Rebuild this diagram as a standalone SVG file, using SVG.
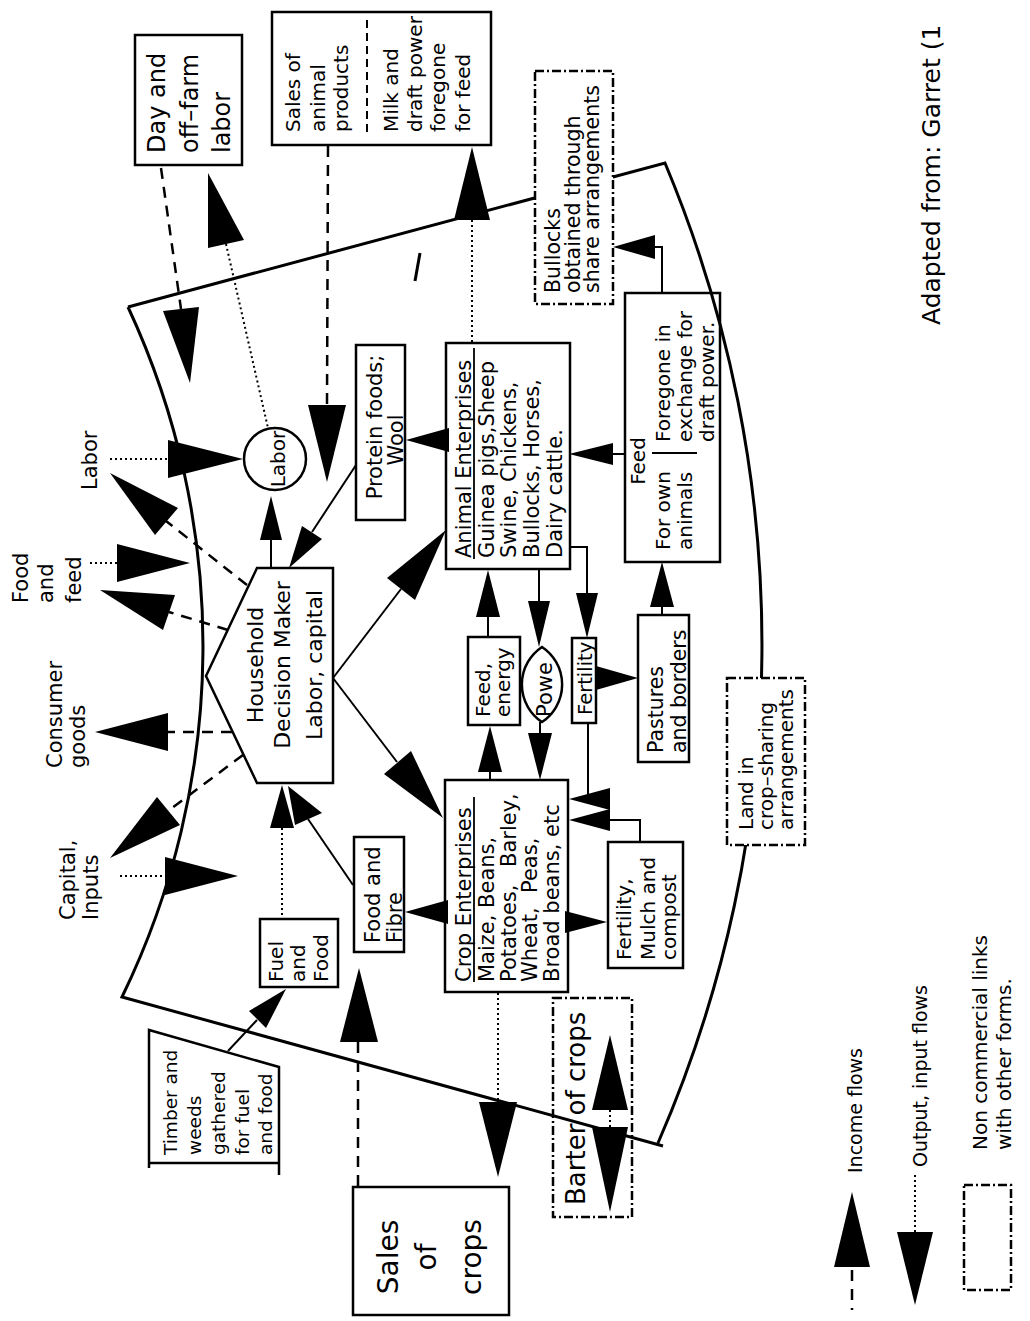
<svg xmlns="http://www.w3.org/2000/svg" width="1030" height="1321" viewBox="0 0 1030 1321">
<style>
.box{fill:none;stroke:#000;stroke-width:2.5}
.wbox{fill:#fff;stroke:#000;stroke-width:2.5}
.dd{stroke-dasharray:9 3 2 3}
.t{font-family:"DejaVu Sans","Liberation Sans",sans-serif;fill:#000}
.ln{fill:none;stroke:#000;stroke-width:2}
.dash{fill:none;stroke:#000;stroke-width:2.5;stroke-dasharray:11 8}
.dot{fill:none;stroke:#000;stroke-width:2;stroke-dasharray:2 3}
.ah{fill:#000;stroke:none}
.bd{fill:none;stroke:#000;stroke-width:3}
</style>
<rect x="0" y="0" width="1030" height="1321" fill="#fff"/>

<g id="boundary">
<path class="bd" d="M128,307 L665,163 A1245.6,1245.6 0 0 1 658,1143 M663,1146 L122,997 A802.5,802.5 0 0 0 128,307"/>
<line x1="420" y1="253" x2="415" y2="281" stroke="#000" stroke-width="3"/>
</g>

<g id="connectors">
<!-- Labor in -->
<path class="dot" d="M110,459 L168,459"/>
<polygon class="ah" points="243,459 168,440 168,478"/>
<!-- Household -> Labor out -->
<path class="dash" d="M247,585 L166,521"/>
<polygon class="ah" points="110,473 178,508 155,535"/>
<!-- Food and feed in -->
<path class="dot" d="M90,563 L117,563"/>
<polygon class="ah" points="190,563 117,544 117,582"/>
<!-- Food and feed out -->
<path class="dash" d="M228,630 L169,612"/>
<polygon class="ah" points="100,590 175,595 163,630"/>
<!-- Consumer goods out -->
<path class="dash" d="M232,732 L168,732"/>
<polygon class="ah" points="95,732 168,713 168,751"/>
<!-- Capital out -->
<path class="dash" d="M243,755 L168,811"/>
<polygon class="ah" points="110,858 157,797 180,825"/>
<!-- Capital inputs in -->
<path class="dot" d="M120,876 L165,876"/>
<polygon class="ah" points="238,876 165,857 165,895"/>
<!-- Day labor income in -->
<path class="dash" d="M161,168 L181,309"/>
<polygon class="ah" points="190,383 199,307 163,311"/>
<!-- Labor -> Day labor -->
<path class="dot" d="M226,244 L268,428"/>
<polygon class="ah" points="208,173 208,248 244,240"/>
<!-- Sales of animal products in -->
<path class="dash" d="M328,146 L327,405"/>
<polygon class="ah" points="327,482 308,405 346,405"/>
<!-- Animal -> milk foregone -->
<path class="dot" d="M472,220 L472,343"/>
<polygon class="ah" points="472,147 454,220 490,220"/>
<!-- Animal -> Protein -->
<polygon class="ah" points="406,440 449,428 449,452"/>
<!-- Protein -> Household -->
<path class="ln" d="M356,465 L312,532"/>
<polygon class="ah" points="289,568 322,539 302,526"/>
<!-- Household -> Labor circle -->
<path class="ln" d="M271,540 L271,568"/>
<polygon class="ah" points="271,496 260,540 282,540"/>
<!-- Household -> Animal -->
<path class="ln" d="M333,678 L401,589"/>
<polygon class="ah" points="446,530 415,600 387,578"/>
<!-- Household -> Crop -->
<path class="ln" d="M333,678 L397,762"/>
<polygon class="ah" points="443,818 411,751 384,774"/>
<!-- Food and Fibre -> Household -->
<path class="ln" d="M353,885 L308,819"/>
<polygon class="ah" points="288,786 295,825 322,813"/>
<!-- Fuel -> Household -->
<path class="dot" d="M282,828 L282,918"/>
<polygon class="ah" points="282,785 270,828 294,828"/>
<!-- Timber -> Fuel -->
<path class="ln" d="M228,1051 L257,1020"/>
<polygon class="ah" points="286,989 266,1028 249,1011"/>
<!-- Crop -> Food and Fibre -->
<polygon class="ah" points="405,912 448,900 448,924"/>
<!-- Sales of crops in -->
<path class="dash" d="M358,1042 L358,1187"/>
<polygon class="ah" points="359,968 340,1042 378,1042"/>
<!-- Crop -> Sales of crops -->
<path class="dot" d="M498,993 L498,1102"/>
<polygon class="ah" points="498,1177 479,1102 517,1102"/>
<!-- Crop -> Fertility mulch -->
<polygon class="ah" points="607,922 565,911 565,933"/>
<!-- Fertility small -> Crop -->
<path class="ln" d="M588,723 L588,797"/>
<polygon class="ah" points="569,799 610,788 610,810"/>
<!-- Fertility mulch -> Crop -->
<path class="ln" d="M640,842 L640,820 L610,820"/>
<polygon class="ah" points="569,820 610,809 610,831"/>
<!-- Animal -> Fertility small -->
<path class="ln" d="M570,547 L587,547 L587,593"/>
<polygon class="ah" points="587,638 576,593 598,593"/>
<!-- Animal -> Power -->
<path class="ln" d="M539,569 L539,601"/>
<polygon class="ah" points="539,647 528,601 550,601"/>
<!-- Power -> Crop -->
<path class="ln" d="M540,722 L540,733"/>
<polygon class="ah" points="540,780 528,733 552,733"/>
<!-- Feed energy -> Animal -->
<path class="ln" d="M488,617 L488,637"/>
<polygon class="ah" points="488,570 476,617 500,617"/>
<!-- Crop -> Feed energy -->
<path class="ln" d="M490,772 L490,780"/>
<polygon class="ah" points="490,726 478,772 502,772"/>
<!-- Fertility small -> Pastures -->
<polygon class="ah" points="638,678 596,666 596,690"/>
<!-- Pastures -> Feed -->
<path class="ln" d="M662,607 L662,615"/>
<polygon class="ah" points="662,562 650,607 674,607"/>
<!-- Feed -> Animal -->
<path class="ln" d="M613,454 L625,454"/>
<polygon class="ah" points="569,454 613,443 613,465"/>
<!-- Feed -> Bullocks -->
<path class="ln" d="M662,293 L662,247 L655,247"/>
<polygon class="ah" points="613,247 655,235 655,259"/>
<!-- Barter of crops -->
<path class="dot" d="M610,1110 L610,1127"/>
<polygon class="ah" points="610,1035 592,1110 628,1110"/>
<polygon class="ah" points="610,1212 592,1127 628,1127"/>
</g>

<g id="n-day-labor">
<rect class="box" x="135" y="35" width="107" height="130"/>
<text class="t" transform="rotate(-90)" font-size="24"><tspan x="-153" y="165">Day and</tspan><tspan x="-153" y="198">off–farm</tspan><tspan x="-153" y="230">labor</tspan></text>
</g>

<g id="n-sales-animal">
<rect class="box" x="272" y="12" width="219" height="133"/>
<line x1="367" y1="20" x2="367" y2="133" stroke="#000" stroke-width="2" stroke-dasharray="8 5"/>
<text class="t" transform="rotate(-90)" font-size="20"><tspan x="-132" y="300">Sales of</tspan><tspan x="-132" y="325">animal</tspan><tspan x="-132" y="348">products</tspan><tspan x="-132" y="398">Milk and</tspan><tspan x="-132" y="422">draft power</tspan><tspan x="-132" y="445">foregone</tspan><tspan x="-132" y="470">for feed</tspan></text>
</g>

<g id="n-bullocks">
<rect class="wbox dd" x="535" y="71" width="78" height="233"/>
<text class="t" transform="rotate(-90)" font-size="20.5"><tspan x="-293" y="560">Bullocks</tspan><tspan x="-293" y="580">obtained through</tspan><tspan x="-293" y="599">share arrangements</tspan></text>
</g>

<g id="n-labor-label">
<text class="t" transform="rotate(-90)" font-size="21" x="-490" y="97">Labor</text>
</g>

<g id="n-food-feed-label">
<text class="t" transform="rotate(-90)" font-size="21"><tspan x="-603" y="28">Food</tspan><tspan x="-603" y="53">and</tspan><tspan x="-603" y="81">feed</tspan></text>
</g>

<g id="n-consumer-label">
<text class="t" transform="rotate(-90)" font-size="21"><tspan x="-768" y="62">Consumer</tspan><tspan x="-768" y="85">goods</tspan></text>
</g>

<g id="n-capital-label">
<text class="t" transform="rotate(-90)" font-size="21"><tspan x="-920" y="75">Capital,</tspan><tspan x="-920" y="98">Inputs</tspan></text>
</g>

<g id="n-labor-circle">
<circle cx="275" cy="459" r="31" fill="none" stroke="#000" stroke-width="2.5"/>
<text class="t" transform="rotate(-90)" font-size="20" text-anchor="middle" x="-459" y="285">Labor</text>
</g>

<g id="n-household">
<polygon class="box" points="257,568 333,568 333,783 257,783 206,676"/>
<text class="t" transform="rotate(-90)" font-size="22" text-anchor="middle"><tspan x="-665" y="263">Household</tspan><tspan x="-665" y="290">Decision Maker</tspan><tspan x="-665" y="322">Labor, capital</tspan></text>
</g>

<g id="n-protein">
<rect class="box" x="356" y="345" width="49" height="175"/>
<text class="t" transform="rotate(-90)" font-size="21" text-anchor="middle"><tspan x="-427" y="382">Protein foods;</tspan><tspan x="-440" y="403">Wool</tspan></text>
</g>

<g id="n-animal">
<rect class="box" x="446" y="343" width="124" height="226"/>
<line x1="474" y1="559" x2="474" y2="348" stroke="#000" stroke-width="1.8"/>
<text class="t" transform="rotate(-90)" font-size="21"><tspan x="-558" y="471">Animal Enterprises</tspan><tspan x="-558" y="494">Guinea pigs,Sheep</tspan><tspan x="-558" y="516">Swine, Chickens,</tspan><tspan x="-558" y="539">Bullocks, Horses,</tspan><tspan x="-558" y="562">Dairy cattle.</tspan></text>
</g>

<g id="n-feed">
<rect class="box" x="625" y="293" width="95" height="269"/>
<line x1="652" y1="453" x2="697" y2="453" stroke="#000" stroke-width="2"/>
<text class="t" transform="rotate(-90)" font-size="20"><tspan x="-461" y="645" text-anchor="middle">Feed</tspan><tspan x="-550" y="670">For own</tspan><tspan x="-550" y="692">animals</tspan><tspan x="-442" y="670">Foregone in</tspan><tspan x="-442" y="692">exchange for</tspan><tspan x="-442" y="714">draft power.</tspan></text>
</g>

<g id="n-pastures">
<rect class="box" x="638" y="615" width="51" height="147"/>
<text class="t" transform="rotate(-90)" font-size="20.5"><tspan x="-753" y="663">Pastures</tspan><tspan x="-753" y="686">and borders</tspan></text>
</g>

<g id="n-land">
<rect class="wbox dd" x="727" y="678" width="78" height="167"/>
<text class="t" transform="rotate(-90)" font-size="20"><tspan x="-830" y="753">Land in</tspan><tspan x="-830" y="773">crop–sharing</tspan><tspan x="-830" y="793">arrangements</tspan></text>
</g>

<g id="n-feed-energy">
<rect class="box" x="468" y="637" width="52" height="88"/>
<text class="t" transform="rotate(-90)" font-size="20"><tspan x="-717" y="490">Feed,</tspan><tspan x="-717" y="510">energy</tspan></text>
</g>

<g id="n-power">
<path class="box" d="M542,647 A45,45 0 0 1 542,722 A45,45 0 0 1 542,647 Z"/>
<text class="t" transform="rotate(-90)" font-size="21" x="-717" y="552">Powe</text>
</g>

<g id="n-fertility-small">
<rect class="box" x="572" y="638" width="24" height="85"/>
<text class="t" transform="rotate(-90)" font-size="19.5" x="-715" y="592">Fertility</text>
</g>

<g id="n-crop">
<rect class="box" x="445" y="780" width="123" height="212"/>
<line x1="474" y1="982" x2="474" y2="797" stroke="#000" stroke-width="1.8"/>
<text class="t" transform="rotate(-90)" font-size="21"><tspan x="-982" y="471">Crop Enterprises</tspan><tspan x="-982" y="494">Maize, Beans,</tspan><tspan x="-982" y="516">Potatoes,</tspan><tspan x="-867" y="516">Barley,</tspan><tspan x="-982" y="537">Wheat,</tspan><tspan x="-893" y="537">Peas,</tspan><tspan x="-982" y="559">Broad beans, etc</tspan></text>
</g>

<g id="n-food-fibre">
<rect class="box" x="354" y="837" width="50" height="115"/>
<text class="t" transform="rotate(-90)" font-size="21"><tspan x="-943" y="380">Food and</tspan><tspan x="-943" y="402">Fibre</tspan></text>
</g>

<g id="n-fertility-mulch">
<rect class="box" x="608" y="842" width="75" height="126"/>
<text class="t" transform="rotate(-90)" font-size="20"><tspan x="-960" y="631">Fertility,</tspan><tspan x="-960" y="655">Mulch and</tspan><tspan x="-960" y="676">compost</tspan></text>
</g>

<g id="n-fuel">
<rect class="box" x="260" y="919" width="78" height="68"/>
<text class="t" transform="rotate(-90)" font-size="20"><tspan x="-982" y="283">Fuel</tspan><tspan x="-982" y="305">and</tspan><tspan x="-982" y="328">Food</tspan></text>
</g>

<g id="n-timber">
<path class="box" d="M149,1168 L149,1030 L279,1067 L279,1175 M149,1163 L279,1163"/>
<text class="t" transform="rotate(-90)" font-size="18.5"><tspan x="-1155" y="177">Timber and</tspan><tspan x="-1155" y="201">weeds</tspan><tspan x="-1155" y="225">gathered</tspan><tspan x="-1155" y="249">for fuel</tspan><tspan x="-1155" y="272">and food</tspan></text>
</g>

<g id="n-sales-crops">
<rect class="box" x="353" y="1187" width="156" height="128"/>
<text class="t" transform="rotate(-90)" font-size="28" text-anchor="middle"><tspan x="-1257" y="398">Sales</tspan><tspan x="-1257" y="436">of</tspan><tspan x="-1257" y="481">crops</tspan></text>
</g>

<g id="n-barter">
<rect class="box dd" x="553" y="998" width="79" height="219"/>
<text class="t" transform="rotate(-90)" font-size="26" x="-1205" y="585">Barter of crops</text>
</g>

<g id="legend">
<path class="dash" d="M852,1270 L852,1310"/>
<polygon class="ah" points="852,1192 834,1267 870,1267"/>
<text class="t" transform="rotate(-90)" font-size="19" x="-1173" y="862">Income flows</text>
<path class="dot" d="M915,1175 L915,1232"/>
<polygon class="ah" points="915,1305 897,1232 933,1232"/>
<text class="t" transform="rotate(-90)" font-size="19" x="-1167" y="927">Output, input flows</text>
<rect class="box dd" x="964" y="1185" width="47" height="105"/>
<text class="t" transform="rotate(-90)" font-size="20"><tspan x="-1150" y="987">Non commercial links</tspan><tspan x="-1150" y="1011">with other forms.</tspan></text>
</g>

<g id="source">
<text class="t" transform="rotate(-90)" font-size="25" x="-325" y="940">Adapted from:  Garret (1</text>
</g>
</svg>
